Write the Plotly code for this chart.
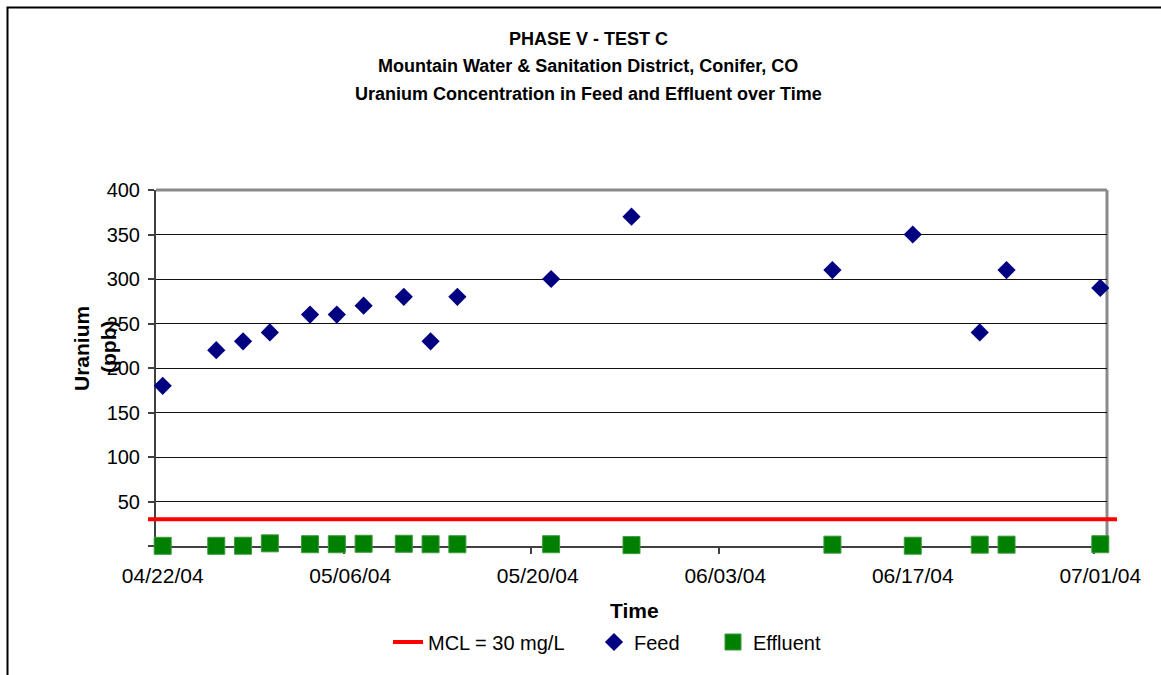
import plotly.graph_objects as go
import pandas as pd

# ---- data ----
dates = ["2004-04-22", "2004-04-26", "2004-04-28", "2004-04-30", "2004-05-03",
         "2004-05-05", "2004-05-07", "2004-05-10", "2004-05-12", "2004-05-14",
         "2004-05-21", "2004-05-27", "2004-06-11", "2004-06-17", "2004-06-22",
         "2004-06-24", "2004-07-01"]
feed = [180, 220, 230, 240, 260, 260, 270, 280, 230, 280, 300, 370, 310, 350, 240, 310, 290]
effluent = [0.2, 0.2, 0.3, 3, 2, 2, 2.5, 2.5, 2, 2, 2, 1, 1.5, 0.3, 1.5, 1.5, 2]
mcl_value = 30
x_tick_dates = ["2004-04-22", "2004-05-06", "2004-05-20", "2004-06-03", "2004-06-17", "2004-07-01"]
y_tick_vals = [0, 50, 100, 150, 200, 250, 300, 350, 400]
y_tick_text = ["", "50", "100", "150", "200", "250", "300", "350", "400"]
title_lines = ["PHASE V - TEST C",
               "Mountain Water & Sanitation District, Conifer, CO",
               "Uranium Concentration in Feed and Effluent over Time"]

# ---- layout geometry (pixels) ----
W, H = 1161, 675
L, R, T, B = 156, 1107, 190, 546
PW, PH = R - L, B - T


def px(x):
    return (x - L) / PW


def py(y):
    return (B - y) / PH


FONT = "Liberation Sans, Arial, sans-serif"

half_day = pd.Timedelta(hours=12)
x_start = pd.Timestamp(x_tick_dates[0]) - half_day
x_end = pd.Timestamp(x_tick_dates[-1]) + half_day
boundaries = [str(pd.Timestamp(d) - half_day) for d in x_tick_dates]

fig = go.Figure()
fig.add_trace(go.Scatter(x=[None], y=[None], mode="lines",
                         line=dict(color="#ff0000", width=4),
                         name="MCL = 30 mg/L", legend="legend"))
fig.add_trace(go.Scatter(x=dates, y=feed, mode="markers", name="Feed",
                         marker=dict(symbol="diamond", size=14, color="#000080",
                                     line=dict(width=0)),
                         cliponaxis=False, legend="legend2"))
fig.add_trace(go.Scatter(x=dates, y=effluent, mode="markers", name="Effluent",
                         marker=dict(symbol="square", size=17, color="#008000",
                                     line=dict(width=1, color="#3a9a3a")),
                         cliponaxis=False, legend="legend3"))

fig.update_xaxes(
    type="date", range=[x_start, x_end],
    tickmode="array", tickvals=x_tick_dates, tickformat="%m/%d/%y",
    ticks="", ticklabelstandoff=10,
    tickfont=dict(family=FONT, size=21, color="#000"),
    showgrid=False, zeroline=False,
    showline=True, linecolor="#404040", linewidth=2,
    layer="below traces",
    minor=dict(tickmode="array", tickvals=boundaries, ticks="outside",
               ticklen=6, tickwidth=1.5, tickcolor="#404040", showgrid=False),
)
fig.update_yaxes(
    range=[0, 400], tickmode="array", tickvals=y_tick_vals, ticktext=y_tick_text,
    ticks="outside", ticklen=6, tickwidth=1.5, tickcolor="#404040",
    ticklabelstandoff=4,
    tickfont=dict(family=FONT, size=20, color="#000"),
    showgrid=False, zeroline=False,
    showline=True, linecolor="#404040", linewidth=2,
    layer="below traces",
    minor=dict(tickmode="array", tickvals=y_tick_vals[1:-1], ticks="",
               showgrid=True, gridcolor="#111111", gridwidth=1),
)

shapes = [
    # plot area top/right border
    dict(type="line", xref="paper", yref="paper", x0=0, x1=1, y0=1, y1=1,
         line=dict(color="#8a8a8a", width=3), layer="below"),
    dict(type="line", xref="paper", yref="paper", x0=1, x1=1, y0=0, y1=1,
         line=dict(color="#8a8a8a", width=3), layer="below"),
    # MCL line
    dict(type="line", xref="paper", yref="y", x0=px(148), x1=px(1117),
         y0=mcl_value, y1=mcl_value, line=dict(color="#ff0000", width=4), layer="above"),
    # outer chart frame (left and top)
    dict(type="path", xref="paper", yref="paper",
         path=f"M {px(7.5)},{py(700)} L {px(7.5)},{py(7.5)} L {px(1200)},{py(7.5)}",
         line=dict(color="#000000", width=2), layer="above"),
]

annotations = []
for i, (txt, yc) in enumerate(zip(title_lines, [38.5, 66, 93.5])):
    annotations.append(dict(text=txt, xref="paper", yref="paper", x=px(588), y=py(yc),
                            xanchor="center", yanchor="middle", showarrow=False,
                            font=dict(family=FONT, size=18, color="#000", weight="bold")))
annotations.append(dict(text="Uranium", xref="paper", yref="paper", x=px(81), y=py(349),
                        xanchor="center", yanchor="middle", showarrow=False, textangle=-90,
                        font=dict(family=FONT, size=21, color="#000", weight="bold")))
annotations.append(dict(text="(ppb)", xref="paper", yref="paper", x=px(108), y=py(347),
                        xanchor="center", yanchor="middle", showarrow=False, textangle=-90,
                        font=dict(family=FONT, size=21, color="#000", weight="bold")))
annotations.append(dict(text="Time", xref="paper", yref="paper", x=px(634), y=py(610),
                        xanchor="center", yanchor="middle", showarrow=False,
                        font=dict(family=FONT, size=21, color="#000", weight="bold")))

leg_common = dict(orientation="h", yanchor="middle", y=py(642), xanchor="left",
                  bgcolor="rgba(0,0,0,0)", borderwidth=0,
                  font=dict(family=FONT, size=20, color="#000"))

fig.update_layout(
    width=W, height=H,
    margin=dict(l=L, r=W - R, t=T, b=H - B, pad=0),
    paper_bgcolor="#ffffff", plot_bgcolor="#ffffff",
    showlegend=True,
    legend=dict(x=px(388), **leg_common),
    legend2=dict(x=px(594), **leg_common),
    legend3=dict(x=px(713), **leg_common),
    shapes=shapes, annotations=annotations,
)

fig.write_html("out.html")
